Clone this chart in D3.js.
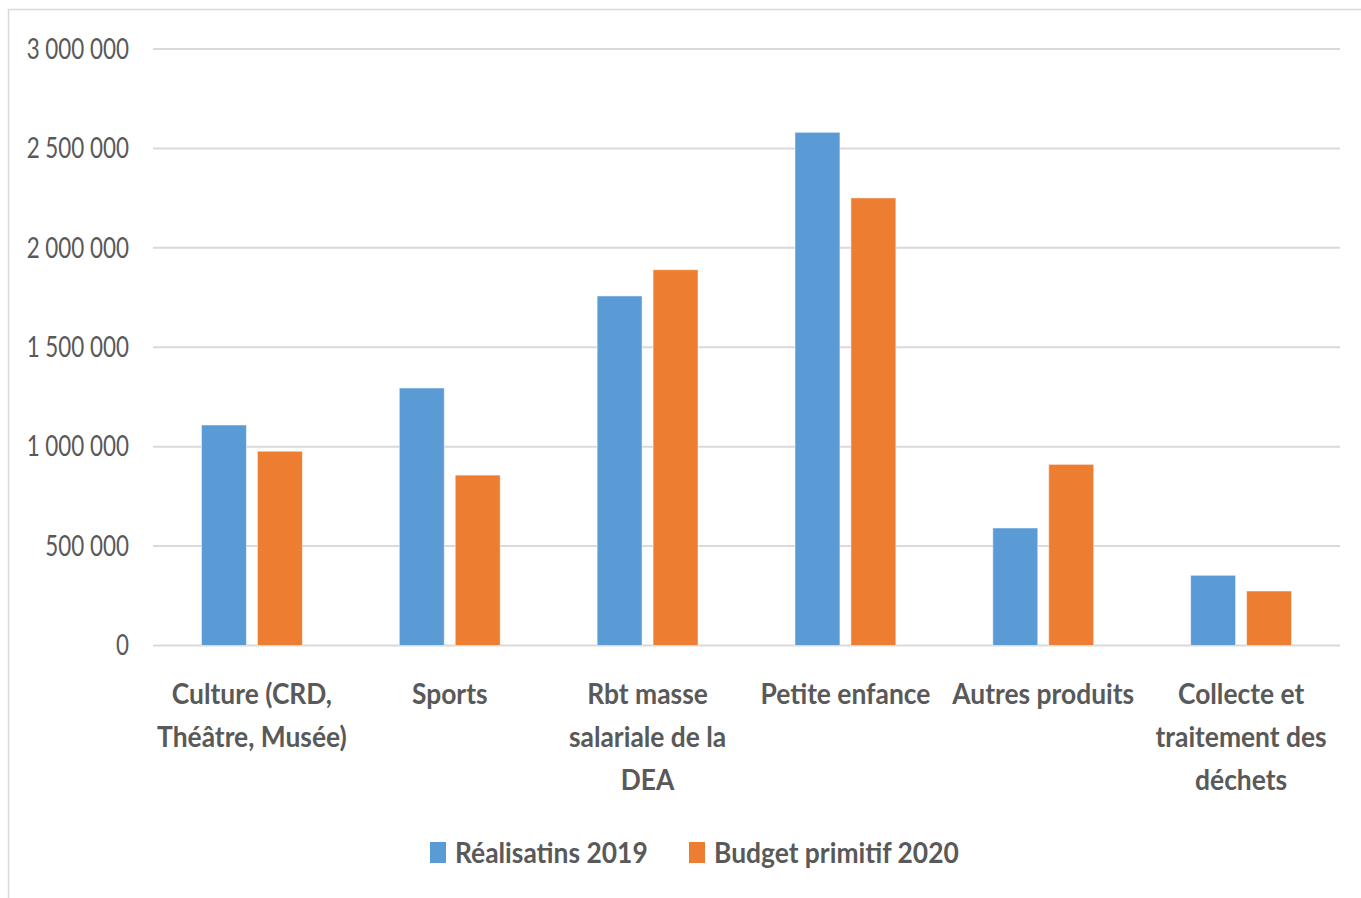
<!DOCTYPE html>
<html>
<head>
<meta charset="utf-8">
<script src="https://cdn.jsdelivr.net/npm/d3@7"></script>
<style>
  html, body { margin: 0; padding: 0; background: #fff; }
  svg { display: block; }
  text { font-family: Lato, "Open Sans", sans-serif; fill: #595959; }
</style>
</head>
<body>
<svg id="chart" width="1361" height="898"></svg>
<script>
// Recettes par poste : réalisations 2019 et budget primitif 2020
const categories = [
  ["Culture (CRD,", "Théâtre, Musée)"],
  ["Sports"],
  ["Rbt masse", "salariale de la", "DEA"],
  ["Petite enfance"],
  ["Autres produits"],
  ["Collecte et", "traitement des", "déchets"]
];
const seriesNames = ["Réalisatins 2019", "Budget primitif 2020"];
const realisations2019 = [1109000, 1295000, 1758000, 2581000, 591000, 353000];
const budget2020 = [977000, 857000, 1890000, 2251000, 911000, 274000];
const yTicks = [0, 500000, 1000000, 1500000, 2000000, 2500000, 3000000];
const colors = ["#5b9bd5", "#ed7d31"];

const svg = d3.select("#chart");
const W = 1361, H = 898;
const plot = { left: 153, right: 1340, top: 49, bottom: 645.5 };
const sxTick = 0.8;  // horizontal squeeze of the axis numbers
const sxBold = 0.91; // horizontal squeeze of the bold labels

// outer chart frame
svg.append("rect")
  .attr("x", 8.5).attr("y", 9.5)
  .attr("width", W).attr("height", H)
  .attr("fill", "none").attr("stroke", "#d9d9d9").attr("stroke-width", 1.5);

const y = d3.scaleLinear().domain([0, 3000000]).range([plot.bottom, plot.top]);
const x0 = d3.scaleBand().domain(d3.range(categories.length))
  .range([plot.left, plot.right]).paddingInner(0.49).paddingOuter(0.245);
const x1 = d3.scaleBand().domain([0, 1]).range([0, x0.bandwidth()]).paddingInner(0.196);

const fmt = d3.formatLocale({ thousands: " ", grouping: [3], decimal: ",", currency: ["", ""] }).format(",");

// gridlines
svg.append("g").selectAll("line").data(yTicks).join("line")
  .attr("x1", plot.left).attr("x2", plot.right)
  .attr("y1", d => y(d)).attr("y2", d => y(d))
  .attr("stroke", "#d9d9d9").attr("stroke-width", 2);

// y tick labels
svg.append("g").selectAll("text").data(yTicks).join("text")
  .attr("transform", d => `translate(129,${y(d)}) scale(${sxTick},1)`)
  .attr("text-anchor", "end").attr("dy", "0.35em")
  .style("font-size", "28px")
  .text(d => fmt(d));

// bars
const series = [realisations2019, budget2020];
const groups = svg.append("g").selectAll("g").data(categories).join("g")
  .attr("transform", (d, i) => `translate(${x0(i)},0)`);
groups.selectAll("rect").data((d, i) => series.map((s, k) => ({ k, v: s[i] }))).join("rect")
  .attr("x", d => x1(d.k))
  .attr("width", x1.bandwidth())
  .attr("y", d => y(d.v))
  .attr("height", d => y(0) - y(d.v))
  .attr("fill", d => colors[d.k])
  .attr("stroke", "rgba(255,255,255,0.5)").attr("stroke-width", 1);

// category labels
groups.each(function(lines, i) {
  const cx = x0.bandwidth() / 2;
  d3.select(this).selectAll("text.cat").data(lines).join("text")
    .attr("class", "cat")
    .attr("transform", (t, j) => `translate(${cx},${704 + j * 43}) scale(${sxBold},1)`)
    .attr("text-anchor", "middle")
    .style("font-size", "29px").style("font-weight", "bold")
    .text(t => t);
});

// legend
const legendX = [430, 689];
const legend = svg.append("g").selectAll("g").data(seriesNames).join("g")
  .attr("transform", (d, i) => `translate(${legendX[i]},842)`);
legend.append("rect").attr("width", 16).attr("height", 21).attr("fill", (d, i) => colors[i]);
legend.append("text")
  .attr("transform", `translate(25,21) scale(${sxBold},1)`)
  .style("font-size", "29px").style("font-weight", "bold")
  .text(d => d);
</script>
</body>
</html>
